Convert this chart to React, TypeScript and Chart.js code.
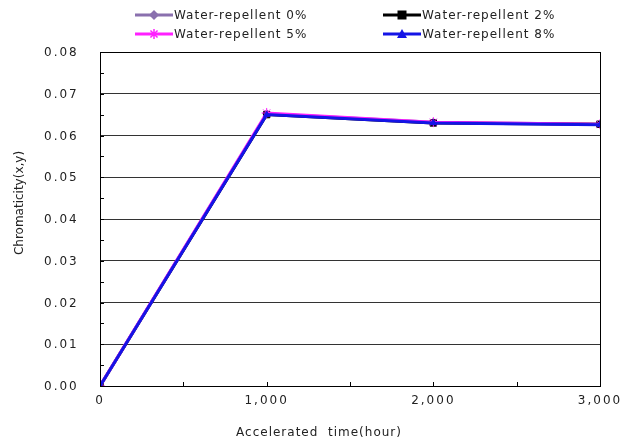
import React, { useEffect, useRef } from "react";
import { Chart, registerables } from "chart.js";

Chart.register(...registerables);

const hours = [0, 1000, 2000, 3000];
const seriesNames = [
  "Water-repellent 0%",
  "Water-repellent 2%",
  "Water-repellent 5%",
  "Water-repellent 8%",
];
const values0 = [0, 0.0652, 0.0632, 0.0627];
const values2 = [0, 0.065, 0.063, 0.0627];
const values5 = [0, 0.0654, 0.0632, 0.0627];
const values8 = [0, 0.065, 0.063, 0.0626];
const yTicks = [0, 0.01, 0.02, 0.03, 0.04, 0.05, 0.06, 0.07, 0.08];
const yTickLabels = ["0.00", "0.01", "0.02", "0.03", "0.04", "0.05", "0.06", "0.07", "0.08"];
const xTickLabels: Record<number, string> = { 0: "0", 1000: "1,000", 2000: "2,000", 3000: "3,000" };
const xTitle = "Accelerated  time(hour)";
const yTitle = "Chromaticity(x,y)";

const colors = ["#8a70ae", "#000000", "#ff20ff", "#1414e6"];
const styles = ["rectRot", "rect", "star", "triangle"];
const radii = [4, 4.5, 5, 3.5];

const FONT = "'DejaVu Sans', sans-serif";

function drawMarker(ctx: CanvasRenderingContext2D, style: string, x: number, y: number, r: number, color: string) {
  ctx.save();
  ctx.fillStyle = color;
  ctx.strokeStyle = color;
  ctx.lineWidth = 1.5;
  ctx.beginPath();
  if (style === "rect") {
    ctx.rect(x - r, y - r, 2 * r, 2 * r);
    ctx.fill();
  } else if (style === "rectRot") {
    ctx.moveTo(x, y - r - 1);
    ctx.lineTo(x + r + 1, y);
    ctx.lineTo(x, y + r + 1);
    ctx.lineTo(x - r - 1, y);
    ctx.closePath();
    ctx.fill();
  } else if (style === "triangle") {
    ctx.moveTo(x, y - r - 1);
    ctx.lineTo(x + r + 1, y + r);
    ctx.lineTo(x - r - 1, y + r);
    ctx.closePath();
    ctx.fill();
  } else {
    for (let i = 0; i < 4; i++) {
      const a = (i * Math.PI) / 4;
      ctx.moveTo(x - r * Math.cos(a), y - r * Math.sin(a));
      ctx.lineTo(x + r * Math.cos(a), y + r * Math.sin(a));
    }
    ctx.stroke();
  }
  ctx.restore();
}

const decorPlugin = {
  id: "decor",
  beforeDraw(chart: any) {
    (chart.ctx as any).letterSpacing = "2px";
  },
  afterDraw(chart: any) {
    const ctx: CanvasRenderingContext2D = chart.ctx;
    const { left, right, top, bottom } = chart.chartArea;
    const xs = chart.scales.x;
    const ys = chart.scales.y;
    ctx.save();
    (ctx as any).letterSpacing = "0px";
    ctx.strokeStyle = "#000";
    ctx.lineWidth = 1;
    ctx.strokeRect(Math.round(left) + 0.5, Math.round(top) + 0.5, Math.round(right - left), Math.round(bottom - top));
    ctx.beginPath();
    for (let k = 0; k <= 16; k++) {
      const y = Math.round(ys.getPixelForValue(k * 0.005)) + 0.5;
      ctx.moveTo(left, y);
      ctx.lineTo(left + 4, y);
    }
    for (let h = 500; h < 3000; h += 500) {
      const x = Math.round(xs.getPixelForValue(h)) + 0.5;
      ctx.moveTo(x, bottom);
      ctx.lineTo(x, bottom - 4);
    }
    ctx.stroke();

    ctx.fillStyle = "#222";
    ctx.font = `12px ${FONT}`;
    // y tick labels
    ctx.textAlign = "left";
    ctx.textBaseline = "middle";
    (ctx as any).letterSpacing = "2px";
    yTicks.forEach((v, i) => {
      ctx.fillText(yTickLabels[i], 44, ys.getPixelForValue(v) + 1);
    });

    ctx.textAlign = "center";
    (ctx as any).letterSpacing = "1px";
    ctx.fillText(xTitle, 319, 433);
    (ctx as any).letterSpacing = "0px";
    ctx.save();
    ctx.translate(20, 203);
    ctx.rotate(-Math.PI / 2);
    ctx.fillText(yTitle, 0, 0);
    ctx.restore();

    const pos = [
      [135, 15],
      [383, 15],
      [135, 34],
      [383, 34],
    ];
    ctx.textAlign = "left";
    (ctx as any).letterSpacing = "1px";
    seriesNames.forEach((name, i) => {
      const [x0, y0] = pos[i];
      ctx.strokeStyle = colors[i];
      ctx.lineWidth = 3;
      ctx.beginPath();
      ctx.moveTo(x0, y0);
      ctx.lineTo(x0 + 38, y0);
      ctx.stroke();
      drawMarker(ctx, styles[i], x0 + 19, y0, i === 3 ? 4 : radii[i], colors[i]);
      ctx.fillStyle = "#222";
      ctx.fillText(name, x0 + 39, y0 + 1);
    });
    ctx.restore();
  },
};

export default function App() {
  const ref = useRef<HTMLCanvasElement>(null);
  useEffect(() => {
    if (!ref.current) return;
    const all = [values0, values2, values5, values8];
    const chart = new Chart(ref.current, {
      type: "line",
      data: {
        datasets: all.map((vals, i) => ({
          label: seriesNames[i],
          data: hours.map((h, j) => ({ x: h, y: vals[j] })),
          borderColor: colors[i],
          backgroundColor: colors[i],
          borderWidth: 3,
          pointStyle: styles[i] as any,
          pointRadius: radii[i],
          pointBorderWidth: 1,
          order: 4 - i,
          tension: 0,
        })),
      },
      options: {
        responsive: false,
        animation: false,
        layout: { padding: { top: 52, right: 29, left: 0, bottom: 0 } },
        plugins: { legend: { display: false }, tooltip: { enabled: false } },
        scales: {
          x: {
            type: "linear",
            min: 0,
            max: 3000,
            afterFit: (s: any) => {
              s.height = 58;
            },
            ticks: {
              stepSize: 1000,
              padding: 8,
              maxRotation: 0,
              color: "#222",
              font: { family: FONT, size: 12 },
              callback: (v: any) => xTickLabels[Math.round(Number(v))] ?? "",
            },
            grid: { drawOnChartArea: false, drawTicks: false },
            border: { display: true, color: "#000", width: 1 },
          },
          y: {
            min: 0,
            max: 0.08,
            afterFit: (s: any) => {
              s.width = 100;
            },
            afterBuildTicks: (s: any) => {
              s.ticks = yTicks.map((v) => ({ value: v }));
            },
            ticks: { display: false },
            grid: { color: "#333", lineWidth: 1, drawTicks: false },
            border: { display: true, color: "#000", width: 1 },
          },
        },
      },
      plugins: [decorPlugin],
    });
    return () => chart.destroy();
  }, []);
  return (
    <div style={{ position: "fixed", left: 0, top: 0, width: 629, height: 444, background: "#fff" }}>
      <canvas ref={ref} width={629} height={444} />
    </div>
  );
}
